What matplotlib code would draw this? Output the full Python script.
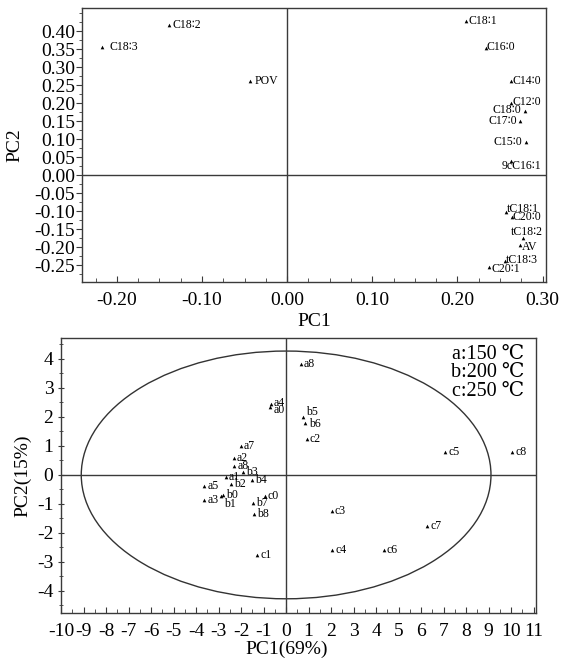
import matplotlib
matplotlib.use("Agg")
import numpy as np
import matplotlib.pyplot as plt
from matplotlib.patches import Ellipse
from matplotlib.ticker import MultipleLocator, FormatStrFormatter, FixedLocator

plt.rcParams['font.family'] = ['Liberation Serif', 'DejaVu Serif', 'DejaVu Sans']
plt.rcParams['axes.unicode_minus'] = False

# ---------------- data: loadings (top panel) ----------------
load_names = ["C18∶2", "C18∶3", "POV", "C18∶1", "C16∶0", "C14∶0", "C12∶0", "C18∶0",
              "C17∶0", "C15∶0", "9cC16∶1", "tC18∶1", "C20∶0", "tC18∶2", "AV",
              "tC18∶3", "C20∶1"]
load_pc1 = [-0.139, -0.217, -0.0435, 0.2106, 0.2333, 0.263, 0.263, 0.279,
            0.274, 0.281, 0.263, 0.2565, 0.264, 0.277, 0.273, 0.2557, 0.237]
load_pc2 = [0.417, 0.355, 0.262, 0.427, 0.352, 0.262, 0.201, 0.179,
            0.151, 0.0925, 0.040, -0.102, -0.1175, -0.174, -0.193, -0.238, -0.256]
load_yticks = [-0.25, -0.20, -0.15, -0.10, -0.05, 0.00, 0.05, 0.10, 0.15, 0.20,
               0.25, 0.30, 0.35, 0.40]

# ---------------- data: scores (bottom panel) ----------------
score_names = ["a8", "a4", "a0", "b5", "b6", "c2", "a7", "a2", "a8", "b3", "a1", "b4",
               "b2", "a5", "b0", "b1", "a3", "c0", "b7", "b8", "c1",
               "c5", "c8", "c3", "c7", "c4", "c6"]
score_pc1 = [0.65, -0.67, -0.71, 0.74, 0.83, 0.92, -2.01, -2.31, -2.30, -1.93, -2.68, -1.52,
             -2.43, -3.63, -2.81, -2.90, -3.63, -0.96, -1.48, -1.42, -1.28,
             7.07, 10.04, 2.03, 6.27, 2.06, 4.33]
score_pc2 = [3.82, 2.45, 2.33, 1.98, 1.80, 1.23, 0.99, 0.58, 0.32, 0.11, -0.06, -0.16,
             -0.31, -0.39, -0.68, -0.71, -0.87, -0.74, -0.98, -1.36, -2.75,
             0.78, 0.78, -1.26, -1.75, -2.59, -2.59]
ellipse_axes = (9.1, 4.27)
legend_lines = ["a:150 ℃", "b:200 ℃", "c:250 ℃"]

# label offsets in pixels (dx, dy, ha)
load_off = {
    "C18∶2": (4, 0, 'left'), "C18∶3": (7, 0, 'left'), "POV": (4, 0, 'left'),
    "C18∶1": (2, 0, 'left'), "C16∶0": (1, 1, 'left'), "C14∶0": (1, 0, 'left'),
    "C12∶0": (1, 1, 'left'), "C18∶0": (-3, 1, 'right'), "C17∶0": (-3, 0, 'right'),
    "C15∶0": (-4, 0, 'right'), "9cC16∶1": (10, -5, 'center'), "tC18∶1": (1, 3, 'left'),
    "C20∶0": (1, 0, 'left'), "tC18∶2": (4, 6, 'center'), "AV": (2, -2, 'left'),
    "tC18∶3": (1, 1, 'left'), "C20∶1": (3, -2, 'left'),
}
score_off_default = (3, 0, 'left')
score_off = {15: (3, -8, 'left'), 3: (3, 5, 'left'), 4: (4, -1, 'left'),
             2: (3, -3, 'left'), 1: (3, 1, 'left')}

W, H = 564, 661
fig = plt.figure(figsize=(W / 100, H / 100), dpi=100)

def px2pt(v):
    return v * 72 / 100

frame_c = '#3a3a3a'
fam = ['Liberation Serif', 'DejaVu Serif', 'DejaVu Sans']

# ---------------- top panel ----------------
ax1 = fig.add_axes([82 / W, 1 - 282 / H, 464 / W, 274 / H])
ax1.set_xlim(-0.241, 0.304)
ax1.set_ylim(-0.297, 0.464)
ax1.axhline(0, color=frame_c, lw=1.0)
ax1.axvline(0, color=frame_c, lw=1.0)
ax1.scatter(load_pc1, load_pc2, marker='^', s=7, color='black', zorder=3, linewidths=0)
for n, x, y in zip(load_names, load_pc1, load_pc2):
    dx, dy, ha = load_off.get(n, (3, 0, 'left'))
    ax1.annotate(n, (x, y), xytext=(px2pt(dx), px2pt(dy)), textcoords='offset points',
                 ha=ha, va='center', fontsize=8.5, family=fam)
ax1.xaxis.set_major_locator(MultipleLocator(0.1))
ax1.xaxis.set_minor_locator(MultipleLocator(0.025))
ax1.yaxis.set_major_locator(FixedLocator(load_yticks))
ax1.yaxis.set_minor_locator(MultipleLocator(0.025))
ax1.xaxis.set_major_formatter(FormatStrFormatter('%.2f'))
ax1.yaxis.set_major_formatter(FormatStrFormatter('%.2f'))
ax1.tick_params(axis='x', which='both', direction='in', pad=7, labelsize=14, color=frame_c)
ax1.tick_params(axis='x', which='major', length=4)
ax1.tick_params(axis='x', which='minor', length=3)
ax1.tick_params(axis='y', which='both', direction='out', pad=1, labelsize=14, color=frame_c)
ax1.tick_params(axis='y', which='major', length=4)
ax1.tick_params(axis='y', which='minor', length=2.5)
ax1.set_xlabel('PC1', fontsize=14)
ax1.set_ylabel('PC2', fontsize=14)
ax1.xaxis.set_label_coords(0.5, -0.113)
ax1.yaxis.set_label_coords(-0.127, 0.5)
for s in ax1.spines.values():
    s.set_color(frame_c)
    s.set_linewidth(1.0)

# ---------------- bottom panel ----------------
ax2 = fig.add_axes([61 / W, 1 - 613 / H, 475 / W, 275 / H])
ax2.set_xlim(-10.0, 11.1)
ax2.set_ylim(-4.76, 4.72)
ax2.axhline(0, color=frame_c, lw=1.0)
ax2.axvline(0, color=frame_c, lw=1.0)
ax2.add_patch(Ellipse((0, 0), 2 * ellipse_axes[0], 2 * ellipse_axes[1], fill=False,
                      edgecolor='#333333', lw=1.0))
ax2.scatter(score_pc1, score_pc2, marker='^', s=7, color='black', zorder=3, linewidths=0)
for i, (n, x, y) in enumerate(zip(score_names, score_pc1, score_pc2)):
    dx, dy, ha = score_off.get(i, score_off_default)
    ax2.annotate(n, (x, y), xytext=(px2pt(dx), px2pt(dy)), textcoords='offset points',
                 ha=ha, va='center', fontsize=8.5)
ax2.text(0.975, 0.975, "\n".join(legend_lines), transform=ax2.transAxes, ha='right', va='top',
         fontsize=14.5, linespacing=0.95, family=fam)
ax2.xaxis.set_major_locator(MultipleLocator(1))
ax2.xaxis.set_minor_locator(MultipleLocator(0.5))
ax2.yaxis.set_major_locator(MultipleLocator(1))
ax2.yaxis.set_minor_locator(MultipleLocator(0.5))
ax2.tick_params(axis='x', which='both', direction='in', pad=7, labelsize=14, color=frame_c)
ax2.tick_params(axis='x', which='major', length=4)
ax2.tick_params(axis='x', which='minor', length=3)
ax2.tick_params(axis='y', which='both', direction='inout', pad=3, labelsize=14, color=frame_c)
ax2.tick_params(axis='y', which='major', length=5)
ax2.tick_params(axis='y', which='minor', length=3)
ax2.set_xlabel('PC1(69%)', fontsize=14)
ax2.set_ylabel('PC2(15%)', fontsize=14)
ax2.xaxis.set_label_coords(0.476, -0.100)
ax2.yaxis.set_label_coords(-0.062, 0.5)
for s in ax2.spines.values():
    s.set_color(frame_c)
    s.set_linewidth(1.0)

fig.savefig('out.png', dpi=100)
